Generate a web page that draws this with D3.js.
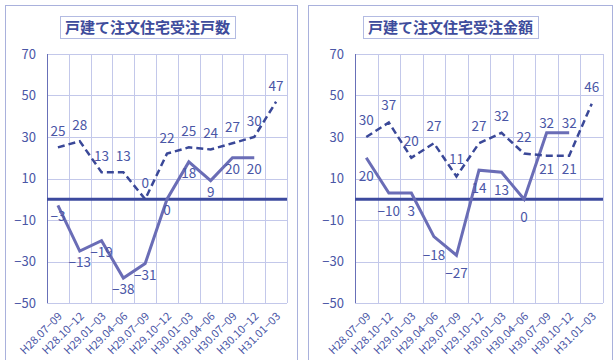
<!DOCTYPE html>
<html><head><meta charset="utf-8">
<script src="https://cdn.jsdelivr.net/npm/d3@7"></script>
<style>body{margin:0;background:#fff}svg{display:block}</style>
</head><body><svg id="c" width="614" height="360"></svg>
<script>
// ---- data ----
const periods = ["H28.07−09","H28.10−12","H29.01−03","H29.04−06","H29.07−09","H29.10−12","H30.01−03","H30.04−06","H30.07−09","H30.10−12","H31.01−03"];
const yTicks = [70,50,30,10,-10,-30,-50];
const yTickLabels = ["70","50","30","10","−10","−30","−50"];

const countTitle = "戸建て注文住宅受注戸数";
const countDashed = [25,28,13,13,0,22,25,24,27,30,47];
const countDashedLabels = ["25","28","13","13","0","22","25","24","27","30","47"];
const countSolid = [-3,-25,-20,-38,-31,0,18,9,20,20,null];
const countSolidLabels = ["−3","−13","−19","−38","−31","0","18","9","20","20",null];

const amountTitle = "戸建て注文住宅受注金額";
const amountDashed = [30,37,20,27,11,27,32,22,21,21,46];
const amountDashedLabels = ["30","37","20","27","11","27","32","22","21","21","46"];
const amountSolid = [20,3,3,-18,-27,14,13,0,32,32,null];
const amountSolidLabels = ["20","−10","3","−18","−27","14","13","0","32","32",null];

// ---- styles ----
const textColor = "#4a56a6";
const gridColor = "#c3c8ea";
const dashColor = "#3a4898";
const solidColor = "#6a6db6";
const zeroColor = "#3c4a9e";
const frameColor = "#a9b1dc";
const font = "'Noto Sans CJK JP', 'Noto Sans', sans-serif";

const svg = d3.select("#c");

function panel(cfg) {
  const g = svg.append("g");
  // frame
  g.append("rect").attr("x", cfg.fx0 + 0.5).attr("y", 5.5)
    .attr("width", cfg.fx1 - cfg.fx0).attr("height", 370)
    .attr("fill", "#fff").attr("stroke", frameColor).attr("stroke-width", 1);

  const x = d3.scaleBand().domain(periods).range([cfg.px0, cfg.px1]).padding(0);
  const y = d3.scaleLinear().domain([-50, 70]).range([303, 54]);

  // grid
  const grid = g.append("g").attr("stroke", gridColor).attr("stroke-width", 1);
  yTicks.forEach(t => grid.append("line")
    .attr("x1", cfg.px0).attr("x2", cfg.px1)
    .attr("y1", Math.round(y(t)) + 0.5).attr("y2", Math.round(y(t)) + 0.5));
  const bounds = periods.map(p => x(p)).concat([cfg.px1]);
  bounds.forEach(b => grid.append("line")
    .attr("x1", Math.round(b) + 0.5).attr("x2", Math.round(b) + 0.5)
    .attr("y1", y(70)).attr("y2", y(-50)));

  // left axis
  g.append("line").attr("x1", cfg.px0 + 0.5).attr("x2", cfg.px0 + 0.5)
    .attr("y1", y(70)).attr("y2", y(-50)).attr("stroke", "#6870b8").attr("stroke-width", 1);

  // y tick labels
  const yAxis = d3.axisLeft(y).tickValues(yTicks).tickSize(0).tickPadding(11)
    .tickFormat((d, i) => yTickLabels[i]);
  const ya = g.append("g").attr("transform", `translate(${cfg.px0},0)`).call(yAxis);
  ya.select(".domain").remove();
  ya.selectAll("text").attr("fill", textColor).attr("font-size", 13).attr("font-family", font);

  // x tick labels
  const xa = g.append("g").attr("transform", `translate(0,${y(-50)})`)
    .call(d3.axisBottom(x).tickSize(0).tickPadding(0));
  xa.select(".domain").remove();
  xa.selectAll("text")
    .attr("fill", textColor).attr("font-size", 11).attr("font-family", font)
    .attr("text-anchor", "end").attr("dy", 0)
    .attr("transform", "translate(5,14) rotate(-45)");

  // zero line
  g.append("line").attr("x1", cfg.px0).attr("x2", cfg.px1)
    .attr("y1", y(0)).attr("y2", y(0)).attr("stroke", zeroColor).attr("stroke-width", 3);

  const cx = p => x(p) + x.bandwidth() / 2;
  const dashedPts = periods.map((p, i) => [p, cfg.dashed[i]]);
  const solidPts = periods.map((p, i) => [p, cfg.solid[i]]).filter(d => d[1] != null);

  const line = d3.line().x(d => cx(d[0])).y(d => y(d[1]));
  g.append("path").attr("d", line(solidPts)).attr("fill", "none")
    .attr("stroke", solidColor).attr("stroke-width", 3).attr("stroke-linejoin", "miter");
  g.append("path").attr("d", line(dashedPts)).attr("fill", "none")
    .attr("stroke", dashColor).attr("stroke-width", 2.5).attr("stroke-dasharray", "7,4");

  // labels
  const lab = g.append("g").attr("fill", textColor).attr("font-size", 13.5)
    .attr("font-family", font).attr("text-anchor", "middle");
  periods.forEach((p, i) => {
    const dv = cfg.dashed[i], sv = cfg.solid[i];
    const swapped = sv != null && sv > dv;
    if (cfg.dashedLabels[i] != null) {
      const off = swapped ? cfg.off.belowSwap : cfg.off.above;
      lab.append("text").attr("x", cx(p)).attr("y", y(dv) + off + 5).text(cfg.dashedLabels[i]);
    }
    if (sv != null && cfg.solidLabels[i] != null) {
      const off = swapped ? cfg.off.aboveSwap : cfg.off.below;
      lab.append("text").attr("x", cx(p)).attr("y", y(sv) + off + 5).text(cfg.solidLabels[i]);
    }
  });

  // title
  const tx = cfg.fx0 + 55, tw = 175;
  g.append("rect").attr("x", tx + 0.5).attr("y", 16.5).attr("width", tw).attr("height", 22)
    .attr("fill", "#fff").attr("stroke", "#b3bbe2");
  g.append("text").attr("x", tx + tw / 2).attr("y", 33).attr("text-anchor", "middle")
    .attr("fill", "#3e4c9c").attr("font-size", 15).attr("font-weight", "bold")
    .attr("font-family", font).text(cfg.title);
}

panel({fx0: 5, fx1: 297, px0: 47, px1: 287, title: countTitle,
  dashed: countDashed, dashedLabels: countDashedLabels,
  solid: countSolid, solidLabels: countSolidLabels,
  off: {above: -16, below: 11, aboveSwap: -11, belowSwap: 13}});
panel({fx0: 308, fx1: 612, px0: 355, px1: 603, title: amountTitle,
  dashed: amountDashed, dashedLabels: amountDashedLabels,
  solid: amountSolid, solidLabels: amountSolidLabels,
  off: {above: -17, below: 18, aboveSwap: -10, belowSwap: 13}});
</script></body></html>
